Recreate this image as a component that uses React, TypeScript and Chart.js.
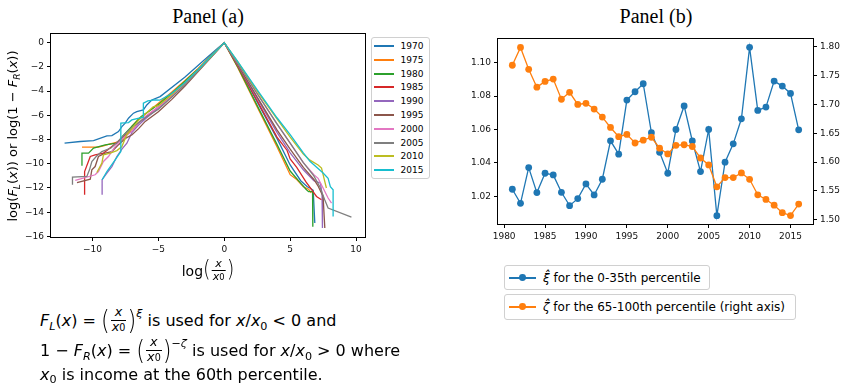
import React, { useEffect, useRef } from "react";
import { Chart, registerables } from "chart.js";
Chart.register(...registerables);

// ---------- Panel (a) data ----------
const yearsA = ["1970", "1975", "1980", "1985", "1990", "1995", "2000", "2005", "2010", "2015"];
const tab10 = ["#1f77b4", "#ff7f0e", "#2ca02c", "#d62728", "#9467bd", "#8c564b", "#e377c2", "#7f7f7f", "#bcbd22", "#17becf"];

const curve1970: [number, number][] = [
  [-12.12, -8.3], [-10.93, -8.16], [-9.92, -8.08], [-8.91, -7.69], [-8.53, -7.67], [-8.03, -7.34], [-7.77, -6.93],
  [-7.52, -6.65], [-7.27, -6.24], [-6.89, -5.82], [-6.64, -5.69], [-6.14, -5.55], [-5.88, -5.14], [-5.5, -4.73],
  [-4.87, -4.45], [-3, -2.85], [-1.5, -1.4], [-0.5, -0.45], [0, 0],
  [1, -1.8], [2.5, -4.9], [4, -7.9], [5, -10.1], [5.8, -11.4], [6.3, -11.9], [6.5, -12.0], [6.75, -12.2], [6.87, -14.9],
];
const curve1975: [number, number][] = [
  [-10.8, -8.63], [-9.55, -8.63], [-9.17, -8.52], [-8.66, -8.36], [-7.9, -8.16], [-7.4, -7.6], [-7.0, -6.9],
  [-6.5, -6.3], [-6, -5.9], [-5, -5.0], [-4, -4.1], [-3, -3.15], [-2, -2.15], [-1, -1.05], [0, 0],
  [1, -2.0], [2.5, -5.3], [4, -8.6], [5, -10.9], [5.5, -11.3], [6, -11.9], [6.4, -12.1], [6.6, -12.4],
];
const curve1980: [number, number][] = [
  [-10.8, -10.17], [-10.8, -9.12], [-10.3, -9.12], [-9.92, -8.71], [-9.04, -8.44], [-8.15, -8.3], [-7.7, -7.7],
  [-7, -6.9], [-6.3, -6.1], [-5.5, -5.5], [-5, -5.1], [-4, -4.2], [-3, -3.2], [-2, -2.2], [-1, -1.1], [0, 0],
  [1, -1.95], [2.5, -5.2], [4, -8.4], [5, -10.6], [5.8, -11.6], [6.2, -12.1], [6.4, -12.3], [6.7, -12.3], [6.72, -15.2],
];
const curve1985: [number, number][] = [
  [-10.6, -12.56], [-10.6, -10.64], [-10.17, -9.4], [-9.8, -9.26], [-9.17, -9.12], [-8.91, -8.91], [-8.53, -8.58],
  [-8, -8.1], [-7.5, -7.6], [-7, -7.3], [-6.5, -6.6], [-6, -6.2], [-5, -5.3], [-4, -4.4], [-3, -3.4], [-2, -2.3],
  [-1, -1.15], [0, 0],
  [1, -1.85], [2.5, -4.8], [4, -7.8], [4.77, -8.9], [5, -9.6], [5.5, -10.3], [6.2, -11.5], [6.74, -12.3], [7.0, -12.7], [7.38, -12.97],
];
const curve1990: [number, number][] = [
  [-9.27, -12.56], [-9.27, -11.32], [-8.91, -10.77], [-8.53, -10.23], [-8.15, -9.4], [-7.77, -8.79], [-7.39, -8.3],
  [-7, -7.4], [-6.5, -6.8], [-6, -6.3], [-5, -5.4], [-4, -4.4], [-3, -3.4], [-2, -2.3], [-1, -1.15], [0, 0],
  [1, -1.8], [2.5, -4.6], [4, -7.4], [5, -9.1], [6, -10.5], [6.8, -11.4], [7.3, -11.6], [7.42, -12.5], [7.45, -15.3],
];
const curve1995: [number, number][] = [
  [-11.18, -11.55], [-10.17, -11.27], [-10.05, -10.5], [-9.8, -10.23], [-9.55, -9.4], [-9.04, -9.12], [-8.53, -8.99],
  [-8, -8.4], [-7.5, -7.9], [-7, -7.6], [-6.5, -7.1], [-6, -6.5], [-5, -5.7], [-4, -4.7], [-3, -3.6], [-2, -2.4],
  [-1, -1.2], [0, 0],
  [1, -1.75], [2.5, -4.5], [4, -7.2], [5, -8.8], [6, -10.3], [6.8, -11.3], [7.1, -11.8], [7.5, -12.7], [7.63, -15.3],
];
const curve2000: [number, number][] = [
  [-11.31, -11.38], [-9.8, -10.91], [-9.55, -10.64], [-9.17, -9.81], [-8.79, -9.4], [-8.3, -8.6], [-7.8, -8.0],
  [-7, -7.3], [-6.5, -6.6], [-6, -6.1], [-5, -5.3], [-4, -4.4], [-3, -3.4], [-2, -2.3], [-1, -1.15], [0, 0],
  [1, -1.65], [2.5, -4.2], [4, -6.7], [5, -8.3], [6, -9.9], [6.8, -10.9], [7.12, -11.2], [7.5, -12.0], [7.88, -12.83], [8.14, -13.25],
];
const curve2005: [number, number][] = [
  [-11.52, -11.74], [-11.52, -11.1], [-10.43, -11.05], [-10.23, -10.5], [-10.05, -9.81], [-9.67, -9.34], [-9.29, -8.99],
  [-8.6, -8.7], [-8, -8.1], [-7.4, -7.4], [-7, -7.0], [-6.5, -6.6], [-6, -6.2], [-5, -5.5], [-4, -4.5], [-3, -3.5],
  [-2, -2.35], [-1, -1.2], [0, 0],
  [1, -1.65], [2.5, -4.2], [4, -6.7], [5, -8.3], [6, -9.9], [6.8, -11.0], [7.25, -11.9], [7.63, -13.0], [7.88, -13.66], [9.65, -14.4],
];
const curve2010: [number, number][] = [
  [-9.67, -10.72], [-9.29, -9.95], [-9.17, -9.26], [-8.66, -9.12], [-8.15, -8.91], [-7.77, -8.58], [-7.4, -7.6],
  [-7, -7.1], [-6.5, -6.4], [-6, -5.9], [-5.4, -5.3], [-5, -5.2], [-4, -4.3], [-3, -3.3], [-2, -2.25], [-1, -1.15], [0, 0],
  [1, -1.55], [2.5, -4.0], [4, -6.3], [5, -7.8], [6, -9.2], [6.5, -9.7], [7.12, -10.1], [7.38, -10.36], [7.5, -10.9], [7.75, -12.0],
];
const curve2015: [number, number][] = [
  [-9.27, -11.32], [-8.91, -10.64], [-8.28, -9.67], [-7.85, -8.99], [-7.85, -6.65], [-7.27, -6.6], [-7.02, -6.38],
  [-6.14, -6.15], [-6.14, -5.0], [-5.8, -4.8], [-5.25, -4.73], [-4.9, -4.75], [-4, -4.2], [-3, -3.3], [-2, -2.25],
  [-1, -1.1], [0, 0],
  [1, -1.52], [2.5, -3.9], [4, -6.2], [5, -7.6], [6, -9.1], [6.5, -9.8], [7.5, -10.77], [7.88, -11.2], [8.05, -11.9], [8.26, -12.15], [8.26, -14.35],
];
const curvesA = [curve1970, curve1975, curve1980, curve1985, curve1990, curve1995, curve2000, curve2005, curve2010, curve2015];

const xTicksA = [-10, -5, 0, 5, 10];
const yTicksA = [0, -2, -4, -6, -8, -10, -12, -14, -16];

// ---------- Panel (b) data ----------
const yearsB = [
  1981, 1982, 1983, 1984, 1985, 1986, 1987, 1988, 1989, 1990, 1991, 1992, 1993, 1994, 1995, 1996, 1997, 1998,
  1999, 2000, 2001, 2002, 2003, 2004, 2005, 2006, 2007, 2008, 2009, 2010, 2011, 2012, 2013, 2014, 2015, 2016,
];
const xiHat = [
  1.0242, 1.0158, 1.0372, 1.0222, 1.0338, 1.0328, 1.0224, 1.0144, 1.0186, 1.0274, 1.0208, 1.0302, 1.0532, 1.0452,
  1.0776, 1.0826, 1.0874, 1.0581, 1.0463, 1.0338, 1.06, 1.0741, 1.0531, 1.0348, 1.06, 1.0084, 1.0404, 1.0514,
  1.0664, 1.1092, 1.0714, 1.0734, 1.089, 1.086, 1.0816, 1.0598,
];
const zetaHat = [
  1.768, 1.799, 1.761, 1.73, 1.74, 1.744, 1.709, 1.721, 1.7, 1.702, 1.692, 1.678, 1.66, 1.644, 1.648, 1.633, 1.638,
  1.643, 1.624, 1.614, 1.629, 1.63, 1.627, 1.607, 1.595, 1.557, 1.573, 1.573, 1.581, 1.57, 1.543, 1.535, 1.525,
  1.512, 1.507, 1.527,
];
const xTicksB = [1980, 1985, 1990, 1995, 2000, 2005, 2010, 2015];
const yTicksLeftB = [1.02, 1.04, 1.06, 1.08, 1.1];
const yTicksRightB = [1.5, 1.55, 1.6, 1.65, 1.7, 1.75, 1.8];
const legendB = ["for the 0-35th percentile", "for the 65-100th percentile (right axis)"];

const SANS = "'DejaVu Sans', sans-serif";
const tickFont = { family: "DejaVu Sans", size: 9 };

const boxPlugin = {
  id: "box",
  afterDraw(chart: any) {
    const { ctx, chartArea: a } = chart;
    ctx.save();
    ctx.strokeStyle = "#000";
    ctx.lineWidth = 1;
    const l = Math.round(a.left) - 0.5;
    const t = Math.round(a.top) - 0.5;
    const r = Math.round(a.right) + 0.5;
    const b = Math.round(a.bottom) + 0.5;
    ctx.strokeRect(l, t, r - l, b - t);
    ctx.restore();
  },
};

const minus = (v: number) => (v < 0 ? "\u2212" + Math.abs(v) : String(v));

function axisBase(ticks: number[], fmt: (v: number) => string, extra: any) {
  return {
    type: "linear",
    afterBuildTicks: (axis: any) => {
      axis.ticks = ticks.map((v) => ({ value: v }));
    },
    grid: { display: true, drawOnChartArea: false, drawTicks: true, tickLength: 4, color: "#000", tickColor: "#000", lineWidth: 1 },
    border: { display: false },
    ticks: { color: "#111", font: tickFont, padding: 3, autoSkip: false, maxRotation: 0, callback: (v: any) => fmt(Number(v)) },
    ...extra,
  };
}

function Sub({ c, it }: { c: string; it?: boolean }) {
  return <span style={{ fontSize: "0.7em", verticalAlign: "-0.3em", lineHeight: 0, fontStyle: it ? "italic" : "normal" }}>{c}</span>;
}

function Frac({ fs }: { fs: number }) {
  const paren = { fontSize: fs * 1.4, display: "inline-block", lineHeight: 1, transform: "scaleY(1.15)", fontWeight: 300 } as any;
  return (
    <span style={{ display: "inline-flex", alignItems: "center", verticalAlign: "middle", lineHeight: 1, marginTop: -4 }}>
      <span style={paren}>(</span>
      <span style={{ display: "inline-flex", flexDirection: "column", alignItems: "stretch", fontSize: fs * 0.8, margin: "0 1px" }}>
        <span style={{ fontStyle: "italic", textAlign: "center", paddingBottom: 1 }}>x</span>
        <span style={{ borderTop: "1px solid #000", padding: "0 1px", textAlign: "center" }}>
          <i>x</i>
          <span style={{ fontSize: "0.75em" }}>0</span>
        </span>
      </span>
      <span style={paren}>)</span>
    </span>
  );
}

export default function App() {
  const refA = useRef<HTMLCanvasElement>(null);
  const refB = useRef<HTMLCanvasElement>(null);

  useEffect(() => {
    const chartA = new Chart(refA.current as HTMLCanvasElement, {
      type: "scatter",
      data: {
        datasets: yearsA.map((lab, i) => ({
          label: lab,
          data: curvesA[i].map(([x, y]) => ({ x, y })),
          borderColor: tab10[i],
          backgroundColor: tab10[i],
          borderWidth: 1.3,
          pointRadius: 0,
          showLine: true,
          fill: false,
          tension: 0,
          order: 10 - i,
        })),
      },
      options: {
        responsive: false,
        animation: false,
        events: [],
        layout: { padding: { left: 0, top: 34, right: 5, bottom: 0 } },
        plugins: { legend: { display: false }, tooltip: { enabled: false } },
        scales: {
          x: axisBase(xTicksA, minus, { position: "bottom", min: -13.15, max: 10.68, afterFit: (s: any) => { s.height = 23; } }),
          y: axisBase(yTicksA, minus, { position: "left", min: -16.05, max: 0.72, afterFit: (s: any) => { s.width = 51; } }),
        },
      } as any,
      plugins: [boxPlugin],
    });

    const chartB = new Chart(refB.current as HTMLCanvasElement, {
      type: "scatter",
      data: {
        datasets: [
          {
            label: "zeta",
            data: yearsB.map((x, i) => ({ x, y: zetaHat[i] })),
            yAxisID: "y1",
            borderColor: tab10[1],
            backgroundColor: tab10[1],
            pointBackgroundColor: tab10[1],
            borderWidth: 1.3,
            pointRadius: 3.4,
            pointBorderWidth: 0,
            showLine: true,
            order: 0,
          },
          {
            label: "xi",
            data: yearsB.map((x, i) => ({ x, y: xiHat[i] })),
            yAxisID: "y",
            borderColor: tab10[0],
            backgroundColor: tab10[0],
            pointBackgroundColor: tab10[0],
            borderWidth: 1.3,
            pointRadius: 3.4,
            pointBorderWidth: 0,
            showLine: true,
            order: 1,
          },
        ],
      },
      options: {
        responsive: false,
        animation: false,
        events: [],
        layout: { padding: { left: 0, top: 39, right: 0, bottom: 0 } },
        plugins: { legend: { display: false }, tooltip: { enabled: false } },
        scales: {
          x: axisBase(xTicksB, (v) => String(v), { position: "bottom", min: 1979.25, max: 2017.75, afterFit: (s: any) => { s.height = 26; } }),
          y: axisBase(yTicksLeftB, (v) => v.toFixed(2), { position: "left", min: 1.0034, max: 1.1142, afterFit: (s: any) => { s.width = 48; } }),
          y1: axisBase(yTicksRightB, (v) => v.toFixed(2), { position: "right", min: 1.4924, max: 1.8136, afterFit: (s: any) => { s.width = 28; } }),
        },
      } as any,
      plugins: [boxPlugin],
    });

    return () => {
      chartA.destroy();
      chartB.destroy();
    };
  }, []);

  const title = { position: "absolute", fontFamily: "'Liberation Serif', serif", fontSize: 20, whiteSpace: "nowrap", lineHeight: "22px", transform: "translateX(-50%)" } as any;
  const txt = { position: "absolute", left: 40, fontFamily: SANS, fontSize: 16, whiteSpace: "nowrap", lineHeight: "20px", color: "#000" } as any;
  const supStyle = { fontSize: "0.7em", lineHeight: 0, verticalAlign: "0.85em" } as any;

  return (
    <div style={{ position: "absolute", left: 0, top: 0, width: 841, height: 387, background: "#fff", overflow: "hidden", color: "#000" }}>
      {/* Panel (a) */}
      <div style={{ ...title, left: 208, top: 5 }}>Panel (a)</div>
      <canvas ref={refA} width={370} height={260} style={{ position: "absolute", left: 0, top: 0, width: 370, height: 260 }} />
      <div
        style={{
          position: "absolute", left: 12.5 - 110, top: 136 - 9, width: 220, height: 18, lineHeight: "18px", textAlign: "center",
          transform: "rotate(-90deg)", fontFamily: SANS, fontSize: 13, whiteSpace: "nowrap",
        }}
      >
        log(<i>F</i><Sub c="L" it />(<i>x</i>)) or log(1 − <i>F</i><Sub c="R" it />(<i>x</i>))
      </div>
      <div style={{ position: "absolute", left: 208, top: 259, transform: "translateX(-50%)", fontFamily: SANS, fontSize: 14, whiteSpace: "nowrap", lineHeight: "24px" }}>
        log<Frac fs={14} />
      </div>
      {/* Legend (a) */}
      <div style={{ position: "absolute", left: 371, top: 37, width: 59, height: 142, border: "1px solid #d0d0d0", borderRadius: 3, boxSizing: "border-box", background: "rgba(255,255,255,0.8)" }}>
        {yearsA.map((y, i) => (
          <div key={y} style={{ position: "absolute", left: 0, top: 1 + i * 13.8, height: 14, width: 58 }}>
            <div style={{ position: "absolute", left: 2, top: 6, width: 20, height: 2, background: tab10[i] }} />
            <div style={{ position: "absolute", left: 28.5, top: 0, fontFamily: SANS, fontSize: 9, lineHeight: "14px" }}>{y}</div>
          </div>
        ))}
      </div>
      {/* Text block */}
      <div style={{ ...txt, top: 310 }}>
        <i>F</i><Sub c="L" it />(<i>x</i>) = <Frac fs={16} /><sup style={supStyle}><i>ξ</i></sup> is used for <i>x</i>/<i>x</i><Sub c="0" /> &lt; 0 and
      </div>
      <div style={{ ...txt, top: 340 }}>
        1 − <i>F</i><Sub c="R" it />(<i>x</i>) = <Frac fs={16} /><sup style={supStyle}>−<i>ζ</i></sup> is used for <i>x</i>/<i>x</i><Sub c="0" /> &gt; 0 where
      </div>
      <div style={{ ...txt, top: 365 }}>
        <i>x</i><Sub c="0" /> is income at the 60th percentile.
      </div>

      {/* Panel (b) */}
      <div style={{ ...title, left: 656, top: 5 }}>Panel (b)</div>
      <canvas ref={refB} width={391} height={250} style={{ position: "absolute", left: 450, top: 0, width: 391, height: 250 }} />
      {[0, 1].map((k) => (
        <div
          key={k}
          style={{
            position: "absolute", left: 504, top: k === 0 ? 265 : 294, width: k === 0 ? 206 : 292, height: k === 0 ? 25 : 26,
            border: "1px solid #d0d0d0", borderRadius: 3, boxSizing: "border-box", background: "rgba(255,255,255,0.8)",
          }}
        >
          <div style={{ position: "absolute", left: 4, top: 11, width: 27, height: 1.5, background: tab10[k] }} />
          <div style={{ position: "absolute", left: 14.2, top: 8.4, width: 6.8, height: 6.8, borderRadius: "50%", background: tab10[k] }} />
          <div style={{ position: "absolute", left: 38, top: 2, fontFamily: SANS, fontSize: 12, lineHeight: "20px", whiteSpace: "nowrap" }}>
            <i>{k === 0 ? "ξ\u0302" : "ζ\u0302"}</i> {legendB[k]}
          </div>
        </div>
      ))}
    </div>
  );
}
